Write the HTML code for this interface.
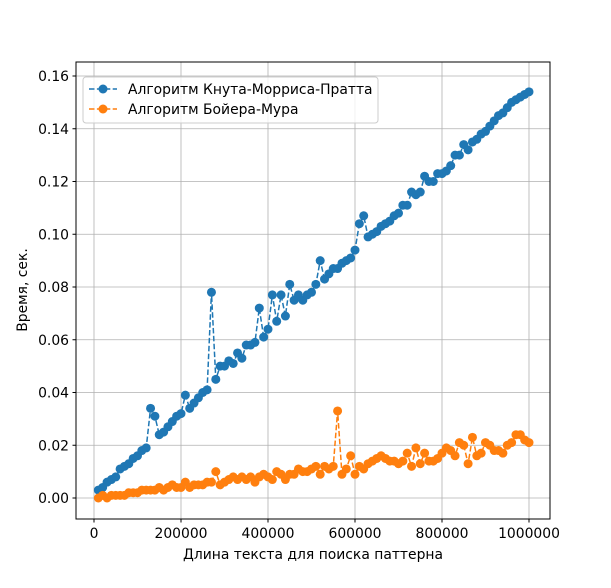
<!DOCTYPE html>
<html><head><meta charset="utf-8"><style>body{margin:0;background:#fff}svg{font-family:"DejaVu Sans","Liberation Sans",sans-serif}</style></head>
<body>
<svg id="chart" width="611" height="583" xmlns="http://www.w3.org/2000/svg">
<rect width="611" height="583" fill="#fff"/>
<g id="grid"></g><g id="series"></g><g id="ticks"></g>
<rect x="76" y="62" width="474" height="457" fill="none" stroke="#000" stroke-width="1"/>
<text x="313" y="559" text-anchor="middle" font-size="13.9">Длина текста для поиска паттерна</text>
<text transform="translate(27,290) rotate(-90)" text-anchor="middle" font-size="13.9">Время, сек.</text>
<g>
<rect x="83" y="77" width="295" height="46" rx="3" fill="#fff" fill-opacity="0.8" stroke="#ccc"/>
<g><line x1="89" y1="89" x2="117" y2="89" stroke="#1f77b4" stroke-width="1.5" stroke-dasharray="5.5,2.4"/><circle cx="103" cy="89" r="4.5" fill="#1f77b4"/><text x="128" y="93.8" font-size="13.9">Алгоритм Кнута-Морриса-Пратта</text></g>
<g><line x1="89" y1="109" x2="117" y2="109" stroke="#ff7f0e" stroke-width="1.5" stroke-dasharray="5.5,2.4"/><circle cx="103" cy="109" r="4.5" fill="#ff7f0e"/><text x="128" y="113.8" font-size="13.9">Алгоритм Бойера-Мура</text></g>
</g>
</svg>
<script>
const kmp=[.003,.004,.006,.007,.008,.011,.012,.013,.015,.016,.018,.019,.034,.031,.024,.025,.027,.029,.031,.032,.039,.034,.036,.038,.040,.041,.078,.045,.050,.050,.052,.051,.055,.053,.058,.058,.059,.072,.061,.064,.077,.067,.077,.069,.081,.075,.077,.075,.077,.078,.081,.090,.083,.085,.087,.087,.089,.090,.091,.094,.104,.107,.099,.100,.101,.103,.104,.105,.107,.108,.111,.111,.116,.115,.116,.122,.120,.120,.123,.123,.124,.126,.130,.130,.134,.132,.135,.136,.138,.139,.141,.143,.145,.146,.148,.150,.151,.152,.153,.154];
const bm=[.000,.001,.000,.001,.001,.001,.001,.002,.002,.002,.003,.003,.003,.003,.004,.003,.004,.005,.004,.004,.006,.004,.005,.005,.005,.006,.006,.010,.005,.006,.007,.008,.007,.008,.007,.008,.006,.008,.009,.008,.007,.010,.009,.007,.009,.009,.011,.010,.010,.011,.012,.009,.012,.011,.012,.033,.009,.011,.016,.009,.012,.011,.013,.014,.015,.016,.015,.014,.014,.013,.014,.017,.012,.019,.013,.017,.014,.014,.015,.017,.019,.018,.016,.021,.020,.013,.023,.016,.017,.021,.020,.018,.018,.017,.020,.021,.024,.024,.022,.021];
const xTicks=[0,200000,400000,600000,800000,1000000];
const yTicks=[0,0.02,0.04,0.06,0.08,0.10,0.12,0.14,0.16];
const NS="http://www.w3.org/2000/svg";
const xs=kmp.map((_,i)=>(i+1)*10000);
function X(v){return 94+v*(529-94)/1000000;}
function Y(v){return 498-v*(498-76)/0.16;}
function mk(t,a,p){const e=document.createElementNS(NS,t);for(const k in a)e.setAttribute(k,a[k]);p.appendChild(e);return e;}
const grid=document.getElementById('grid'),ticks=document.getElementById('ticks'),ser=document.getElementById('series');
xTicks.forEach(v=>{const x=X(v);
const g=mk('line',{x1:x,x2:x,y1:62,y2:519,stroke:'#b0b0b0','stroke-width':0.8},grid);


mk('line',{x1:x,x2:x,y1:519,y2:522.5,stroke:'#000'},ticks);
const t=mk('text',{x:x,y:538,'text-anchor':'middle','font-size':13.9},ticks);t.textContent=String(v);

});
yTicks.forEach(v=>{const y=Y(v);
const g=mk('line',{x1:76,x2:550,y1:y,y2:y,stroke:'#b0b0b0','stroke-width':0.8},grid);


mk('line',{x1:72.5,x2:76,y1:y,y2:y,stroke:'#000'},ticks);
const t=mk('text',{x:69,y:y+5,'text-anchor':'end','font-size':13.9},ticks);t.textContent=v.toFixed(2);

});
[[kmp,'#1f77b4','kmp'],[bm,'#ff7f0e','bm']].forEach(([d,c,n])=>{
const pl=mk('polyline',{points:d.map((v,i)=>X(xs[i])+','+Y(v)).join(' '),fill:'none',stroke:c,'stroke-width':1.5,'stroke-dasharray':'5.5,2.4'},ser);


d.forEach((v,i)=>{const p=mk('circle',{cx:X(xs[i]),cy:Y(v),r:4.5,fill:c},ser);

});});
</script>
</body></html>
